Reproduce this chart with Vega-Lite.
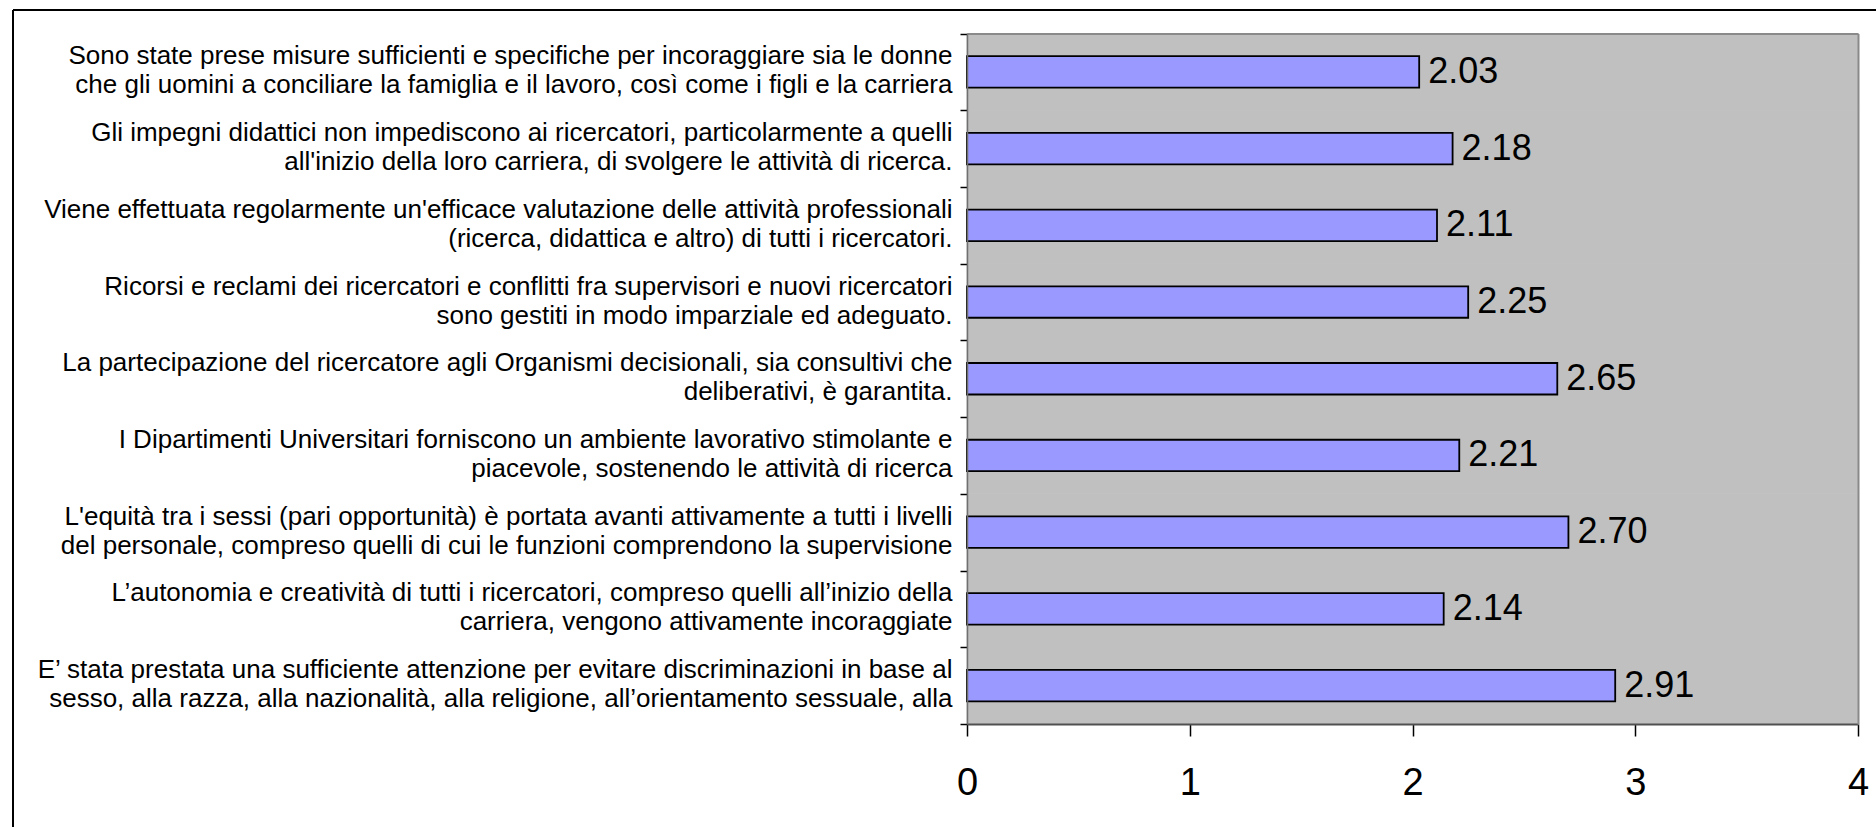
{
  "$schema": "https://vega.github.io/schema/vega-lite/v6.json",
  "autosize": {"type": "none"},
  "padding": {"left": 13, "top": 10, "right": 0, "bottom": 0},
  "width": 1863,
  "height": 817,
  "background": "white",
  "config": {
    "view": {"stroke": "black", "strokeWidth": 2, "strokeDash": [1863, 2680, 817, 0], "fill": "white"},
    "font": "Liberation Sans"
  },
  "data": {
    "values": [
      {"q": "Sono state prese misure sufficienti e specifiche per incoraggiare sia le donne|che gli uomini a conciliare la famiglia e il lavoro, così come i figli e la carriera", "v": 2.03},
      {"q": "Gli impegni didattici non impediscono ai ricercatori, particolarmente a quelli|all'inizio della loro carriera, di svolgere le attività di ricerca.", "v": 2.18},
      {"q": "Viene effettuata regolarmente un'efficace valutazione delle attività professionali|(ricerca, didattica e altro) di tutti i ricercatori.", "v": 2.11},
      {"q": "Ricorsi e reclami dei ricercatori e conflitti fra supervisori e nuovi ricercatori|sono gestiti in modo imparziale ed adeguato.", "v": 2.25},
      {"q": "La partecipazione del ricercatore agli Organismi decisionali, sia consultivi che|deliberativi, è garantita.", "v": 2.65},
      {"q": "I Dipartimenti Universitari forniscono un ambiente lavorativo stimolante e|piacevole, sostenendo le attività di ricerca", "v": 2.21},
      {"q": "L'equità tra i sessi (pari opportunità) è portata avanti attivamente a tutti i livelli|del personale, compreso quelli di cui le funzioni comprendono la supervisione", "v": 2.70},
      {"q": "L’autonomia e creatività di tutti i ricercatori, compreso quelli all’inizio della|carriera, vengono attivamente incoraggiate", "v": 2.14},
      {"q": "E’ stata prestata una sufficiente attenzione per evitare discriminazioni in base al|sesso, alla razza, alla nazionalità, alla religione, all’orientamento sessuale, alla", "v": 2.91}
    ]
  },
  "resolve": {"axis": {"x": "independent", "y": "independent"}},
  "layer": [
    {
      "mark": {"type": "rect", "fill": "#C0C0C0", "stroke": "#C0C0C0", "strokeWidth": 1},
      "encoding": {
        "x": {"datum": 0, "type": "quantitative",
              "axis": {"orient": "top", "offset": -23.5, "domainColor": "#8a8a8a", "domainWidth": 2, "ticks": false, "labels": false, "grid": false, "title": null, "zindex": 1}},
        "x2": {"datum": 4},
        "y": {"field": "q", "type": "nominal", "sort": null,
              "axis": {"orient": "right", "offset": -18, "domainColor": "#8a8a8a", "domainWidth": 2, "ticks": false, "labels": false, "grid": false, "title": null, "zindex": 1}}
      }
    },
    {
      "mark": {"type": "bar", "fill": "#9999FF", "stroke": "black", "strokeWidth": 1.8, "height": {"band": 0.41}},
      "encoding": {
        "x": {"field": "v", "type": "quantitative",
              "scale": {"domain": [0, 4], "range": [954, 1845], "nice": false, "zero": false},
              "axis": {"orient": "bottom", "offset": -103, "values": [0, 1, 2, 3, 4], "format": "d",
                       "domainColor": "#505050", "domainWidth": 2, "tickColor": "black", "tickSize": 12, "tickWidth": 1.5,
                       "labelFontSize": 38, "labelPadding": 28, "labelColor": "black", "labelFlush": false,
                       "labelOverlap": false, "labelBound": false, "grid": false, "title": null, "zindex": 1}},
        "y": {"field": "q", "type": "nominal", "sort": null,
              "scale": {"type": "band", "range": [23.5, 714], "paddingInner": 0, "paddingOuter": 0},
              "axis": {"orient": "left", "offset": -954, "domainColor": "#707070", "domainWidth": 1.5,
                       "tickBand": "extent", "tickColor": "black", "tickSize": 7, "tickWidth": 1.5,
                       "labelFontSize": 26, "labelLineHeight": 29, "labelPadding": 8, "labelLimit": 1500,
                       "labelOffset": -16,
                       "labelAlign": "right", "labelBaseline": "middle", "labelColor": "black",
                       "labelExpr": "split(datum.label, '|')", "labelOverlap": false, "labelBound": false,
                       "grid": false, "title": null, "zindex": 1}}
      }
    },
    {
      "mark": {"type": "text", "align": "left", "baseline": "middle", "dx": 9, "fontSize": 36, "color": "black"},
      "encoding": {
        "x": {"field": "v", "type": "quantitative", "axis": null},
        "y": {"field": "q", "type": "nominal", "sort": null, "axis": null},
        "text": {"field": "v", "type": "quantitative", "format": ".2f"}
      }
    }
  ]
}
